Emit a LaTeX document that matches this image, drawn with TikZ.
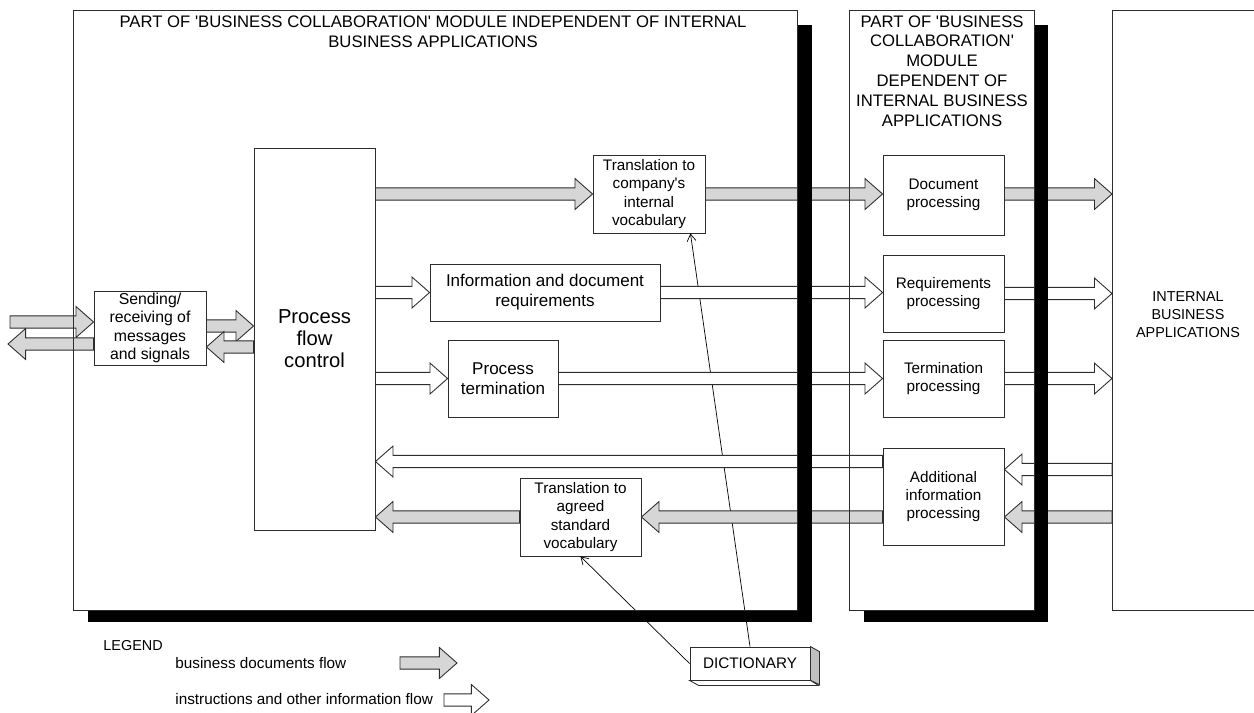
\documentclass[tikz,border=0pt]{standalone}
\usepackage{fontspec}
\setmainfont{Liberation Sans}
\usetikzlibrary{arrows.meta,calc}
\definecolor{bc@edge}{RGB}{45,45,45}
\definecolor{bc@doc}{RGB}{214,214,214}
\definecolor{bc@side}{RGB}{192,192,192}
\tikzset{
  collab/.style={
    x=0.02cm, y=-0.02cm,
    line width=0.5pt,
    >={Straight Barb[length=4pt,width=5pt]}
  },
  boxsize/.style 2 args={minimum width=#1*0.02cm, minimum height=#2*0.02cm},
  procnode/.style={                % processing step
    draw=bc@edge, line width=0.5pt,
    fill=white,
    inner sep=1pt,
    align=center,
    font=\fontsize{8.7}{10.4}\selectfont
  },
  bignode/.style={procnode, font=\fontsize{9.7}{11.4}\selectfont},
  ptitle/.style={align=center, inner sep=0pt, font=\fontsize{9.5}{11.3}\selectfont},
  legendtext/.style={anchor=west, inner sep=0pt, font=\fontsize{8.7}{10}\selectfont},
  panel/.style={draw=bc@edge, line width=0.5pt},
  panelshadow/.style={fill=black},
  blockflow/.style={                % wide hollow arrow, start y is kept
    draw=bc@edge, line width=0.5pt,
    to path={
      let \p1=(\tikztostart), \p2=(\tikztotarget), \n1={sign(\x2-\x1)} in
      (\x1,\y1+3.5pt) -- (\x2-\n1*10pt,\y1+3.5pt) -- (\x2-\n1*10pt,\y1+8.8pt)
      -- (\x2,\y1) -- (\x2-\n1*10pt,\y1-8.8pt) -- (\x2-\n1*10pt,\y1-3.5pt)
      -- (\x1,\y1-3.5pt) -- cycle
    }
  },
  docflow/.style={blockflow, fill=bc@doc},
  infoflow/.style={blockflow, fill=white},
  dictline/.style={->, draw=black, line width=0.4pt}
}

\begin{document}
\begin{tikzpicture}[collab]
\useasboundingbox (0,0) rectangle (1254,713);

% Panel titles
\node[ptitle] (ltitle) at (433,32)
  {PART OF \textquotesingle BUSINESS COLLABORATION\textquotesingle{} MODULE INDEPENDENT OF INTERNAL\\BUSINESS APPLICATIONS};
\node[ptitle] (mtitle) at (942,71)
  {PART OF \textquotesingle BUSINESS\\COLLABORATION\textquotesingle\\MODULE\\DEPENDENT OF\\INTERNAL BUSINESS\\APPLICATIONS};
\node[ptitle, font=\fontsize{8.2}{10.2}\selectfont] (rtitle) at (1188,315)
  {INTERNAL\\BUSINESS\\APPLICATIONS};
\coordinate (intl) at (1112,0);

% Steps
\node[procnode, boxsize={112}{74}, font=\fontsize{9}{10.4}\selectfont] (send) at (150,328)
  {Sending/\\receiving of\\messages\\and signals};
\node[procnode, boxsize={121}{382}, font=\fontsize{11.5}{12.6}\selectfont] (pfc) at (314.5,339)
  {Process\\flow\\control};
\node[procnode, boxsize={112}{78}] (tco) at (649,194)
  {Translation to\\company\textquotesingle s\\internal\\vocabulary};
\node[bignode, boxsize={230}{57}] (idr) at (545,292.5)
  {Information and document\\requirements};
\node[bignode, boxsize={110}{77}] (pterm) at (503,378.5)
  {Process\\termination};
\node[procnode, boxsize={121}{78}] (tas) at (580.5,517)
  {Translation to\\agreed\\standard\\vocabulary};

% Dependent processing
\node[procnode, boxsize={121}{80}] (docp) at (943.5,195) {Document\\processing};
\node[procnode, boxsize={121}{77}] (reqp) at (943.5,293.5) {Requirements\\processing};
\node[procnode, boxsize={121}{77}] (termp) at (943.5,378.5) {Termination\\processing};
\node[procnode, boxsize={121}{97}] (addp) at (943.5,496.5) {Additional\\information\\processing};

% Dictionary
\node[procnode, boxsize={120}{33}] (dict) at (750,663.5) {DICTIONARY};
\filldraw[fill=bc@side, draw=bc@edge] (dict.north east) -- ++(9,5) -- ++(0,33) -- (dict.south east) -- cycle;
\filldraw[fill=white, draw=bc@edge] (dict.south west) -- ++(9,5) -- ++(120,0) -- (dict.south east) -- cycle;
\draw[dictline] (dict.north) -- ($(tco.south east)+(-15,0)$);
\draw[dictline] (dict.west) -- (tas.south);

% Message exchange
\coordinate (inlet) at (10,322);
\coordinate (outlet) at (8,344);
\draw[docflow] (inlet) to (send.west);
\draw[docflow] (send.west |- outlet) to (outlet);
\draw[docflow] ($(send.east)+(0,-2)$) to (pfc.west);
\draw[docflow] ($(pfc.west)+(0,8)$) to (send.east);

% Towards internal applications
\draw[docflow] (pfc.east |- tco.west) to (tco.west);
\draw[docflow] (tco.east) to (docp.west);
\draw[docflow] (docp.east |- tco.east) to (intl |- tco.east);
\draw[infoflow] (pfc.east |- idr.west) to (idr.west);
\draw[infoflow] (idr.east) to (reqp.west);
\draw[infoflow] (reqp.east) to (intl |- reqp.east);
\draw[infoflow] (pfc.east |- pterm.west) to (pterm.west);
\draw[infoflow] (pterm.east) to (termp.west);
\draw[infoflow] (termp.east) to (intl |- termp.east);

% Back from internal applications
\draw[infoflow] ($(intl |- addp.east)+(0,-27)$) to (addp.east);
\draw[docflow] (intl |- tas.east) to (addp.east);
\draw[infoflow] ($(addp.west)+(0,-35)$) to (pfc.east);
\draw[docflow] (addp.west |- tas.east) to (tas.east);
\draw[docflow] (tas.west) to (pfc.east);

% Panels with shadows
\fill[panelshadow] (797,25) rectangle (812,622);
\fill[panelshadow] (88,610) rectangle (812,622);
\fill[panelshadow] (1034,25) rectangle (1048,622);
\fill[panelshadow] (864,610) rectangle (1048,622);
\draw[panel] (73,10) rectangle (797,610);
\draw[panel] (849,10) rectangle (1034,610);
\draw[panel] (1254,10) -- (1112,10) -- (1112,610) -- (1254,610);

% Legend
\node[legendtext, font=\fontsize{8.2}{10}\selectfont] (legend) at (103,646) {LEGEND};
\node[legendtext] (ldoc) at (175,663) {business documents flow};
\node[legendtext] (linfo) at (175,699) {instructions and other information flow};
\coordinate (ldocA) at (400,663);
\coordinate (ldocB) at (457,663);
\coordinate (linfoA) at (444,700);
\coordinate (linfoB) at (489,700);
\draw[docflow] (ldocA) to (ldocB);
\draw[infoflow] (linfoA) to (linfoB);

\end{tikzpicture}
\end{document}
